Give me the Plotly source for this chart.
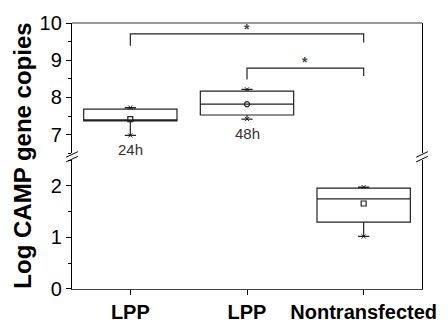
import plotly.graph_objects as go

# ---- data ----
categories = ["LPP", "LPP", "Nontransfected"]
time_labels = ["24h", "48h", ""]
q1_vals = [7.37, 7.53, 1.30]
median_vals = [7.40, 7.82, 1.75]
q3_vals = [7.69, 8.17, 1.96]
mean_vals = [7.42, 7.82, 1.66]
min_vals = [6.98, 7.42, 1.02]
max_vals = [7.73, 8.22, 1.98]
panel = ["top", "top", "bottom"]
mean_symbols = ["square-open", "circle-open", "square-open"]

# significance brackets: (x_left, x_right, y_bar, y_left_end, y_right_end, y_star)
brackets = [(0, 2, 9.71, 9.39, 9.475, 9.85),
            (1, 2, 8.79, 8.48, 8.58, 8.96)]

top_range = [6.5, 10]
bottom_range = [0, 2.5]

x_pos = list(range(len(categories)))

FONT = "Arial, Liberation Sans, sans-serif"
LINE = "#222222"

fig = go.Figure()
for i in x_pos:
    yax = "y2" if panel[i] == "top" else "y"
    fig.add_trace(go.Box(
        x=[x_pos[i]], q1=[q1_vals[i]], median=[median_vals[i]], q3=[q3_vals[i]],
        lowerfence=[min_vals[i]], upperfence=[max_vals[i]],
        width=0.8, whiskerwidth=0.12, fillcolor="rgba(0,0,0,0)",
        line=dict(color=LINE, width=1.2), yaxis=yax, xaxis="x",
        boxpoints=False, hoverinfo="skip", showlegend=False))
    fig.add_trace(go.Scatter(
        x=[x_pos[i]], y=[mean_vals[i]], mode="markers", yaxis=yax,
        marker=dict(symbol=mean_symbols[i], size=5, color=LINE, line=dict(width=1.2, color=LINE)),
        showlegend=False, hoverinfo="skip"))
    fig.add_trace(go.Scatter(
        x=[x_pos[i], x_pos[i]], y=[min_vals[i], max_vals[i]], mode="markers", yaxis=yax,
        marker=dict(symbol="x-thin-open", size=4, color=LINE, line=dict(width=1, color=LINE)),
        showlegend=False, hoverinfo="skip"))
    if time_labels[i]:
        fig.add_annotation(x=x_pos[i], y=min_vals[i], xref="x", yref=yax, text=time_labels[i],
                           showarrow=False, yanchor="top", yshift=-4,
                           font=dict(family=FONT, size=15, color="#333333"))

for (xl, xr, yb, yl, yr, ys) in brackets:
    fig.add_shape(type="path", xref="x", yref="y2",
                  path=f"M {xl} {yl} L {xl} {yb} L {xr} {yb} L {xr} {yr}",
                  line=dict(color=LINE, width=1.2))
    fig.add_annotation(x=(xl + xr) / 2, y=ys, xref="x", yref="y2", text="<b>*</b>",
                       showarrow=False, font=dict(family=FONT, size=14, color="#444444"))

# layout geometry
L, R, T, B = 71.7, 17, 20, 29.3
W, H = 448, 335
ph = H - T - B
pw = W - L - R
bot_top = (305.7 - 167.4) / ph
top_bot = (305.7 - 160.0) / ph

axis_common = dict(showline=True, linecolor="black", linewidth=1.3, mirror=True,
                   ticks="outside", ticklen=5, tickwidth=1.2, tickcolor="black",
                   showgrid=False, zeroline=False,
                   tickfont=dict(family=FONT, size=20, color="black"),
                   minor=dict(dtick=0.5, ticks="outside", ticklen=3, tickcolor="black", tickwidth=1.2))

fig.update_layout(
    width=W, height=H, margin=dict(l=L, r=R, t=T, b=B),
    paper_bgcolor="white", plot_bgcolor="white",
    xaxis=dict(range=[-0.5, 2.5], tickvals=x_pos, ticktext=[f"<b>{c}</b>" for c in categories],
               showline=True, linecolor="#444444", linewidth=1.3, ticks="outside", ticklen=5,
               tickwidth=1.2, tickcolor="black", showgrid=False, zeroline=False, anchor="y",
               tickfont=dict(family=FONT, size=20, color="black")),
    yaxis=dict(domain=[0, bot_top], range=bottom_range, dtick=1, anchor="x", **axis_common),
    yaxis2=dict(domain=[top_bot, 1], range=top_range, dtick=1, anchor="x", **axis_common),
)

# top border of the upper panel
fig.add_shape(type="line", xref="paper", yref="paper", x0=0, x1=1, y0=1, y1=1,
              line=dict(color="#777777", width=1.3))

# axis break marks
def px2paper(px, py):
    return (px - L) / pw, (305.7 - py) / ph

for ax_px in (L, L + pw):
    for dy in (-2.5, 2.5):
        x0, y0 = px2paper(ax_px - 6, 163.7 + dy + 3)
        x1, y1 = px2paper(ax_px + 6, 163.7 + dy - 3)
        fig.add_shape(type="line", xref="paper", yref="paper", x0=x0, y0=y0, x1=x1, y1=y1,
                      line=dict(color="black", width=1))

fig.add_annotation(x=(20 - L) / pw, y=0.5, xref="paper", yref="paper",
                   xanchor="center", yanchor="middle",
                   text="<b>Log CAMP gene copies</b>", textangle=-90, showarrow=False,
                   font=dict(family=FONT, size=24, color="black"))

fig.write_html("out.html")
